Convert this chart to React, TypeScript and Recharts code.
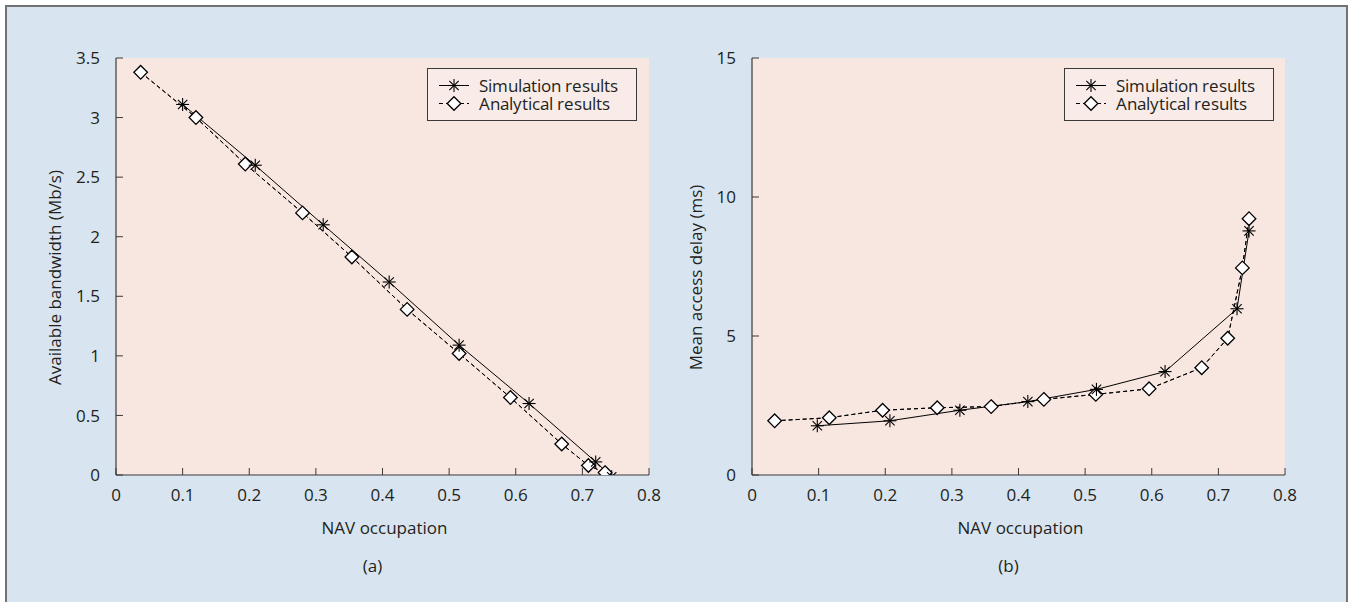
import React from "react";
import { LineChart, Line, XAxis, YAxis, CartesianGrid, Legend, Label } from "recharts";

const FONT = "'Open Sans', 'DejaVu Sans', sans-serif";
// same face, tighter line metrics so the two stacked key rows keep separate boxes
const KEY_FONT = "'Open Sans Key', 'Open Sans', sans-serif";
const INK = "#231f20";
const FRAME = "#3a3a3a";

const navTicks = [0, 0.1, 0.2, 0.3, 0.4, 0.5, 0.6, 0.7, 0.8];
const bwTicks = [0, 0.5, 1, 1.5, 2, 2.5, 3, 3.5];
const delayTicks = [0, 5, 10, 15];
// the right edge of panel (b) repeats the tick spacing of panel (a)
const mirrorTicks = bwTicks;

const seriesNames = ["Simulation results", "Analytical results"];

// (a) available bandwidth
const bwSimX = [0.1, 0.209, 0.311, 0.41, 0.515, 0.62, 0.72, 0.744];
const bwSimY = [3.11, 2.6, 2.1, 1.62, 1.09, 0.6, 0.11, -0.015];
const bwAnaX = [0.037, 0.12, 0.194, 0.28, 0.354, 0.437, 0.515, 0.592, 0.669, 0.709, 0.734];
const bwAnaY = [3.38, 3.0, 2.61, 2.2, 1.83, 1.39, 1.02, 0.65, 0.26, 0.08, 0.02];

// (b) mean access delay
const delaySimX = [0.098, 0.207, 0.312, 0.414, 0.517, 0.62, 0.728, 0.746];
const delaySimY = [1.77, 1.95, 2.33, 2.64, 3.08, 3.72, 5.98, 8.78];
const delayAnaX = [0.034, 0.116, 0.196, 0.278, 0.359, 0.438, 0.516, 0.596, 0.675, 0.714, 0.736, 0.746];
const delayAnaY = [1.95, 2.06, 2.33, 2.42, 2.46, 2.72, 2.9, 3.1, 3.86, 4.92, 7.45, 9.22];

const zip = (xs: number[], ys: number[]) => xs.map((x, i) => ({ x, y: ys[i] }));

const PLOT_TOP = 58;
const PLOT_BOTTOM = 475;

function StarDot(props: any) {
  const { cx, cy } = props;
  if (cx == null || cy == null) return null;
  const r = 6.5;
  const d = r * 0.72;
  return (
    <g stroke="#000" strokeWidth={1.1}>
      <line x1={cx - r} y1={cy} x2={cx + r} y2={cy} />
      <line x1={cx} y1={cy - r} x2={cx} y2={cy + r} />
      <line x1={cx - d} y1={cy - d} x2={cx + d} y2={cy + d} />
      <line x1={cx - d} y1={cy + d} x2={cx + d} y2={cy - d} />
    </g>
  );
}

function DiamondDot(props: any) {
  const { cx, cy } = props;
  if (cx == null || cy == null) return null;
  const r = 6.8;
  return (
    <path
      d={`M${cx},${cy - r}L${cx + r},${cy}L${cx},${cy + r}L${cx - r},${cy}Z`}
      fill="#fff"
      stroke="#000"
      strokeWidth={1.3}
    />
  );
}

function BottomTick(props: any) {
  const { x, y, payload } = props;
  return (
    <g>
      <line x1={x} x2={x} y1={y - 14} y2={y - 21} stroke={FRAME} strokeWidth={1} />
      <text x={x} y={y} dy="0.71em" textAnchor="middle" fill={INK} fontSize={17} fontFamily={FONT}>
        {payload.value}
      </text>
    </g>
  );
}

function LeftTick(props: any) {
  const { x, y, payload } = props;
  return (
    <g>
      <line x1={x + 16} x2={x + 23} y1={y} y2={y} stroke={FRAME} strokeWidth={1} />
      <text x={x} y={y} dy="0.36em" textAnchor="end" fill={INK} fontSize={17} fontFamily={FONT}>
        {payload.value}
      </text>
    </g>
  );
}

function TopTick(props: any) {
  const { x, y } = props;
  return <line x1={x} x2={x} y1={y} y2={y + 7} stroke={FRAME} strokeWidth={1} />;
}

function RightTick(props: any) {
  const { x, y } = props;
  return <line x1={x - 7} x2={x} y1={y} y2={y} stroke={FRAME} strokeWidth={1} />;
}

function KeyBox(props: any) {
  const items = (props.payload || []).filter((p: any) => seriesNames.includes(p.value));
  return (
    <div
      style={{
        position: "relative",
        width: 210,
        height: 53,
        boxSizing: "border-box",
        border: `1px solid ${FRAME}`,
        background: "#f9ece8",
        fontFamily: KEY_FONT,
        fontSize: 17,
        color: INK,
      }}
    >
      {items.map((p: any) => {
        const idx = seriesNames.indexOf(p.value);
        const mid = idx === 0 ? 16 : 34;
        return (
          <div key={p.value} style={{ position: "absolute", left: 0, top: mid - 8.5, height: 17, width: 208 }}>
            <svg width={34} height={17} style={{ position: "absolute", left: 9, top: 0, overflow: "visible" }}>
              <line
                x1={2}
                x2={32}
                y1={8.5}
                y2={8.5}
                stroke="#000"
                strokeWidth={1}
                strokeDasharray={idx === 1 ? "4 3" : undefined}
              />
              {idx === 0 ? <StarDot cx={17} cy={8.5} /> : <DiamondDot cx={17} cy={8.5} />}
            </svg>
            <div
              style={{
                position: "absolute",
                left: 51,
                top: 1,
                height: 17,
                lineHeight: "17px",
                whiteSpace: "nowrap",
              }}
            >
              {p.value}
            </div>
          </div>
        );
      })}
    </div>
  );
}

type PanelProps = {
  left: number;
  width: number;
  margin: { top: number; right: number; bottom: number; left: number };
  sim: { x: number; y: number }[];
  ana: { x: number; y: number }[];
  yDomain: [number, number];
  yTicks: number[];
  rightTicks: number[];
  rightDomain: [number, number];
  yTitle: string;
  yTitleX: number;
  caption: string;
  legendLeft: number;
};

function Panel(p: PanelProps) {
  const plotLeft = p.margin.left + 60;
  const plotRight = p.width - p.margin.right;
  const cx = (plotLeft + plotRight) / 2;
  return (
    <div style={{ position: "absolute", left: p.left, top: 0 }}>
      <LineChart width={p.width} height={602} margin={p.margin}>
        <CartesianGrid fill="#f8e6e0" stroke="none" horizontal={false} vertical={false} />
        <XAxis
          dataKey="x"
          type="number"
          domain={[0, 0.8]}
          ticks={navTicks}
          interval={0}
          height={40}
          tickSize={0}
          tickMargin={14}
          tickLine={false}
          axisLine={{ stroke: FRAME, strokeWidth: 1.2 }}
          tick={<BottomTick />}
          allowDataOverflow
        >
          <Label
            content={() => (
              <g>
                <text x={cx + 2} y={528} dy="0.36em" textAnchor="middle" fill={INK} fontSize={17} fontFamily={FONT}>
                  NAV occupation
                </text>
                <text x={cx - 10} y={566} dy="0.36em" textAnchor="middle" fill={INK} fontSize={17} fontFamily={FONT}>
                  {p.caption}
                </text>
              </g>
            )}
          />
        </XAxis>
        <XAxis
          xAxisId="top"
          orientation="top"
          type="number"
          domain={[0, 0.8]}
          ticks={navTicks}
          interval={0}
          height={0}
          tickSize={0}
          tickMargin={0}
          tickLine={false}
          axisLine={{ stroke: FRAME, strokeWidth: 1.2 }}
          tick={<TopTick />}
          allowDataOverflow
        />
        <YAxis
          type="number"
          domain={p.yDomain}
          ticks={p.yTicks}
          interval={0}
          width={60}
          tickSize={0}
          tickMargin={16}
          tickLine={false}
          axisLine={{ stroke: FRAME, strokeWidth: 1.2 }}
          tick={<LeftTick />}
          allowDataOverflow
        >
          <Label
            content={() => {
              const cy = (PLOT_TOP + PLOT_BOTTOM) / 2 + 11;
              return (
                <text
                  x={p.yTitleX}
                  y={cy}
                  transform={`rotate(-90, ${p.yTitleX}, ${cy})`}
                  textAnchor="middle"
                  fill={INK}
                  fontSize={17}
                  fontFamily={FONT}
                >
                  {p.yTitle}
                </text>
              );
            }}
          />
        </YAxis>
        <YAxis
          yAxisId="right"
          orientation="right"
          type="number"
          domain={p.rightDomain}
          ticks={p.rightTicks}
          interval={0}
          width={0}
          tickSize={0}
          tickMargin={0}
          tickLine={false}
          axisLine={{ stroke: FRAME, strokeWidth: 1.2 }}
          tick={<RightTick />}
          allowDataOverflow
        />
        <Legend
          layout="horizontal"
          verticalAlign="middle"
          align="center"
          content={<KeyBox />}
          wrapperStyle={{ position: "absolute", left: p.legendLeft, top: 68, width: 210, height: 53 }}
        />
        <Line
          name={seriesNames[1]}
          data={p.ana}
          dataKey="y"
          type="linear"
          stroke="#000"
          strokeWidth={1}
          strokeDasharray="4 3"
          dot={<DiamondDot />}
          activeDot={false}
          isAnimationActive={false}
        />
        <Line
          name={seriesNames[0]}
          data={p.sim}
          dataKey="y"
          type="linear"
          stroke="#000"
          strokeWidth={1}
          dot={<StarDot />}
          activeDot={false}
          isAnimationActive={false}
        />
        <Line
          name="analytical-overlay"
          legendType="none"
          data={p.ana}
          dataKey="y"
          type="linear"
          stroke="#000"
          strokeWidth={1}
          strokeDasharray="4 3"
          dot={false}
          activeDot={false}
          isAnimationActive={false}
        />
      </LineChart>
    </div>
  );
}

export default function App() {
  return (
    <div style={{ position: "absolute", left: 0, top: 0, width: 1351, height: 602, background: "#fff", overflow: "hidden" }}>
      <style>{`@font-face {
  font-family: 'Open Sans Key';
  src: local('Open Sans Regular'), local('OpenSans-Regular'), local('Open Sans');
  ascent-override: 84%;
  descent-override: 20%;
  line-gap-override: 0%;
}`}</style>
      <div
        style={{
          position: "absolute",
          left: 5,
          top: 5,
          width: 1343,
          height: 640,
          boxSizing: "border-box",
          border: "2px solid #707274",
          background: "#d8e5f1",
        }}
      />
      <Panel
        left={0}
        width={675}
        margin={{ top: PLOT_TOP, right: 26, bottom: 602 - PLOT_BOTTOM - 40, left: 56 }}
        sim={zip(bwSimX, bwSimY)}
        ana={zip(bwAnaX, bwAnaY)}
        yDomain={[0, 3.5]}
        yTicks={bwTicks}
        rightTicks={bwTicks}
        rightDomain={[0, 3.5]}
        yTitle="Available bandwidth (Mb/s)"
        yTitleX={61}
        caption="(a)"
        legendLeft={427}
      />
      <Panel
        left={675}
        width={676}
        margin={{ top: PLOT_TOP, right: 66, bottom: 602 - PLOT_BOTTOM - 40, left: 17 }}
        sim={zip(delaySimX, delaySimY)}
        ana={zip(delayAnaX, delayAnaY)}
        yDomain={[0, 15]}
        yTicks={delayTicks}
        rightTicks={mirrorTicks}
        rightDomain={[0, 3.5]}
        yTitle="Mean access delay (ms)"
        yTitleX={27}
        caption="(b)"
        legendLeft={389}
      />
    </div>
  );
}
